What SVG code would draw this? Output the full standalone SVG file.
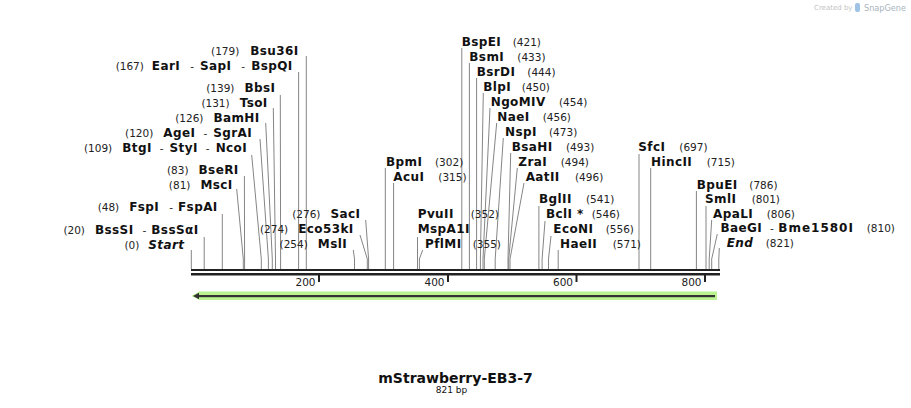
<svg xmlns="http://www.w3.org/2000/svg" width="911" height="408" viewBox="0 0 911 408">
<style>
text{font-family:"DejaVu Sans","Liberation Sans",sans-serif;fill:#111}
.n{font-weight:bold;font-size:12px;letter-spacing:0.4px}
.i{font-weight:bold;font-style:italic;font-size:12px;letter-spacing:0.4px}
.p{font-size:10.5px;font-weight:normal;fill:#222;letter-spacing:0}
.ln{stroke:#858585;stroke-width:1;fill:none}
.rl{font-size:10.5px;fill:#222}
</style>
<rect width="911" height="408" fill="#fff"/>
<g id="credit">
<text x="814" y="10" style="font-size:7px;fill:#c4c4c4">Created by</text>
<rect x="855" y="3" width="5" height="9" rx="2" fill="#9fc3e6"/>
<text x="864" y="10.5" textLength="42" lengthAdjust="spacingAndGlyphs" style="font-size:8.5px;fill:#a9b4be">SnapGene</text>
</g>
<g id="connectors">
<polyline class="ln" points="306.3,56 306.3,269"/>
<polyline class="ln" points="298.6,72 298.6,269"/>
<polyline class="ln" points="280.3,95 280.6,259 280.6,269"/>
<polyline class="ln" points="273.3,108 275.5,259 275.5,269"/>
<polyline class="ln" points="265.7,123 272.3,259 272.3,269"/>
<polyline class="ln" points="260,139 268.4,259 268.4,269"/>
<polyline class="ln" points="251.7,155 261.3,259 261.3,269"/>
<polyline class="ln" points="244.4,176 244.6,269"/>
<polyline class="ln" points="236.7,189 243.3,259 243.3,269"/>
<polyline class="ln" points="222.3,214 222.3,269"/>
<polyline class="ln" points="204.2,237 204.2,269"/>
<polyline class="ln" points="191.3,250 191.3,269"/>
<polyline class="ln" points="365.7,220 368.6,259 368.6,269"/>
<polyline class="ln" points="360,235 367.3,259 367.3,269"/>
<polyline class="ln" points="353.3,250 354.5,259 354.5,269"/>
<polyline class="ln" points="385.3,168 385.3,269"/>
<polyline class="ln" points="393.6,183 393.6,269"/>
<polyline class="ln" points="417.5,237 417.5,269"/>
<polyline class="ln" points="422.7,250 419.4,259 419.4,269"/>
<polyline class="ln" points="461.8,48 461.8,269"/>
<polyline class="ln" points="469.4,63 469.4,269"/>
<polyline class="ln" points="476.6,78 476.6,269"/>
<polyline class="ln" points="483.3,93 480.4,259 480.4,269"/>
<polyline class="ln" points="490,108 483,259 483,269"/>
<polyline class="ln" points="496.7,123 484.3,259 484.3,269"/>
<polyline class="ln" points="503.3,138 495.2,259 495.2,269"/>
<polyline class="ln" points="510.7,153 508,259 508,269"/>
<polyline class="ln" points="517.3,168 508.7,259 508.7,269"/>
<polyline class="ln" points="524,183 510,259 510,269"/>
<polyline class="ln" points="538.9,206 538.9,269"/>
<polyline class="ln" points="545,221 542.1,259 542.1,269"/>
<polyline class="ln" points="551,236 548.5,259 548.5,269"/>
<polyline class="ln" points="558.2,250 558.2,269"/>
<polyline class="ln" points="639,154 639,269"/>
<polyline class="ln" points="650.7,168 650.7,269"/>
<polyline class="ln" points="696.4,191 696.4,269"/>
<polyline class="ln" points="706,206 706,269"/>
<polyline class="ln" points="711.7,220 709.2,259 709.2,269"/>
<polyline class="ln" points="717.3,234 711.7,259 711.7,269"/>
<polyline class="ln" points="719.3,248 718.8,259 718.8,269"/>
</g>
<g id="backbone">
<line x1="191" y1="270" x2="720" y2="270" stroke="#222" stroke-width="2.2"/>
<line x1="191" y1="274.2" x2="720" y2="274.2" stroke="#222" stroke-width="2.4"/>
<rect x="318" y="275" width="2" height="7" fill="#222"/>
<rect x="447" y="275" width="2" height="7" fill="#222"/>
<rect x="575.5" y="275" width="2" height="7" fill="#222"/>
<rect x="704" y="275" width="2" height="7" fill="#222"/>
<text class="rl" x="315.5" y="285.5" text-anchor="end">200</text>
<text class="rl" x="444.5" y="285.5" text-anchor="end">400</text>
<text class="rl" x="573" y="285.5" text-anchor="end">600</text>
<text class="rl" x="701.5" y="285.5" text-anchor="end">800</text>
</g>
<g id="feature">
<polygon points="191.5,296 199.5,291.5 717,291.5 717,300 199.5,300" fill="#b9f28e"/>
<polygon points="193,296 199,292.8 199,299.2" fill="#333"/>
<rect x="198" y="295" width="517" height="2.2" fill="#333"/>
</g>
<g id="site-Bsu36I"><text x="298.7" y="55" text-anchor="end"><tspan class="p">(179)</tspan><tspan class="n" dx="11">Bsu36I</tspan></text></g>
<g id="site-EarI"><text x="292.7" y="70" text-anchor="end"><tspan class="p">(167)</tspan><tspan class="n" dx="8">EarI</tspan><tspan class="p" dx="10">-</tspan><tspan class="n" dx="6">SapI</tspan><tspan class="p" dx="10">-</tspan><tspan class="n" dx="6">BspQI</tspan></text></g>
<g id="site-BbsI"><text x="275.4" y="92" text-anchor="end"><tspan class="p">(139)</tspan><tspan class="n" dx="10">BbsI</tspan></text></g>
<g id="site-TsoI"><text x="267.7" y="107" text-anchor="end"><tspan class="p">(131)</tspan><tspan class="n" dx="10">TsoI</tspan></text></g>
<g id="site-BamHI"><text x="259.7" y="122" text-anchor="end"><tspan class="p">(126)</tspan><tspan class="n" dx="10">BamHI</tspan></text></g>
<g id="site-AgeI"><text x="252.1" y="137" text-anchor="end"><tspan class="p">(120)</tspan><tspan class="n" dx="10">AgeI</tspan><tspan class="p" dx="8">-</tspan><tspan class="n" dx="6">SgrAI</tspan></text></g>
<g id="site-BtgI"><text x="247.1" y="152" text-anchor="end"><tspan class="p">(109)</tspan><tspan class="n" dx="10">BtgI</tspan><tspan class="p" dx="8">-</tspan><tspan class="n" dx="6">StyI</tspan><tspan class="p" dx="8">-</tspan><tspan class="n" dx="6">NcoI</tspan></text></g>
<g id="site-BseRI"><text x="238.7" y="174" text-anchor="end"><tspan class="p">(83)</tspan><tspan class="n" dx="10">BseRI</tspan></text></g>
<g id="site-MscI"><text x="232.7" y="189" text-anchor="end"><tspan class="p">(81)</tspan><tspan class="n" dx="10">MscI</tspan></text></g>
<g id="site-FspI"><text x="217.7" y="211" text-anchor="end"><tspan class="p">(48)</tspan><tspan class="n" dx="10">FspI</tspan><tspan class="p" dx="10">-</tspan><tspan class="n" dx="5">FspAI</tspan></text></g>
<g id="site-BssSI"><text x="198.5" y="234" text-anchor="end"><tspan class="p">(20)</tspan><tspan class="n" dx="10">BssSI</tspan><tspan class="p" dx="9">-</tspan><tspan class="n" dx="5">BssSαI</tspan></text></g>
<g id="site-Start"><text x="184.4" y="249" text-anchor="end"><tspan class="p">(0)</tspan><tspan class="i" dx="9">Start</tspan></text></g>
<g id="site-SacI"><text x="360.4" y="218" text-anchor="end"><tspan class="p">(276)</tspan><tspan class="n" dx="10">SacI</tspan></text></g>
<g id="site-Eco53kI"><text x="353.7" y="233" text-anchor="end"><tspan class="p">(274)</tspan><tspan class="n" dx="10">Eco53kI</tspan></text></g>
<g id="site-MslI"><text x="347.1" y="248" text-anchor="end"><tspan class="p">(254)</tspan><tspan class="n" dx="10">MslI</tspan></text></g>
<g id="site-BpmI"><text class="n" x="386" y="166">BpmI</text><text class="p" x="435" y="166">(302)</text></g>
<g id="site-AcuI"><text class="n" x="393.3" y="181">AcuI</text><text class="p" x="438.3" y="181">(315)</text></g>
<g id="site-PvuII"><text class="n" x="417.7" y="218">PvuII</text><text class="p" x="470.7" y="218">(352)</text><text class="n" x="417.7" y="233">MspA1I</text></g>
<g id="site-PflMI"><text class="n" x="425" y="248">PflMI</text><text class="p" x="472.7" y="248">(355)</text></g>
<g id="site-BspEI"><text class="n" x="461.7" y="46">BspEI</text><text class="p" x="512.7" y="46">(421)</text></g>
<g id="site-BsmI"><text class="n" x="469.3" y="61">BsmI</text><text class="p" x="517.3" y="61">(433)</text></g>
<g id="site-BsrDI"><text class="n" x="476.7" y="76">BsrDI</text><text class="p" x="527.3" y="76">(444)</text></g>
<g id="site-BlpI"><text class="n" x="483.3" y="91">BlpI</text><text class="p" x="521.7" y="91">(450)</text></g>
<g id="site-NgoMIV"><text class="n" x="490.7" y="106">NgoMIV</text><text class="p" x="559" y="106">(454)</text></g>
<g id="site-NaeI"><text class="n" x="497.3" y="121">NaeI</text><text class="p" x="542.7" y="121">(456)</text></g>
<g id="site-NspI"><text class="n" x="505" y="136">NspI</text><text class="p" x="549" y="136">(473)</text></g>
<g id="site-BsaHI"><text class="n" x="511.7" y="151">BsaHI</text><text class="p" x="566" y="151">(493)</text></g>
<g id="site-ZraI"><text class="n" x="518.3" y="166">ZraI</text><text class="p" x="560.7" y="166">(494)</text></g>
<g id="site-AatII"><text class="n" x="525.7" y="181">AatII</text><text class="p" x="575" y="181">(496)</text></g>
<g id="site-BglII"><text class="n" x="539" y="203">BglII</text><text class="p" x="586" y="203">(541)</text></g>
<g id="site-BclI"><text class="n" x="546" y="218">BclI *</text><text class="p" x="591.7" y="218">(546)</text></g>
<g id="site-EcoNI"><text class="n" x="553.3" y="233">EcoNI</text><text class="p" x="605.7" y="233">(556)</text></g>
<g id="site-HaeII"><text class="n" x="560" y="248">HaeII</text><text class="p" x="612.7" y="248">(571)</text></g>
<g id="site-SfcI"><text class="n" x="638.3" y="151">SfcI</text><text class="p" x="679.3" y="151">(697)</text></g>
<g id="site-HincII"><text class="n" x="651" y="166">HincII</text><text class="p" x="706.7" y="166">(715)</text></g>
<g id="site-BpuEI"><text class="n" x="696.7" y="189">BpuEI</text><text class="p" x="749.3" y="189">(786)</text></g>
<g id="site-SmlI"><text class="n" x="705" y="203">SmlI</text><text class="p" x="751.7" y="203">(801)</text></g>
<g id="site-ApaLI"><text class="n" x="713" y="218">ApaLI</text><text class="p" x="766.7" y="218">(806)</text></g>
<g id="site-BaeGI"><text class="n" x="720.5" y="232">BaeGI</text><text class="p" x="770" y="232">-</text><text class="n" x="778.3" y="232" textLength="75" lengthAdjust="spacing">Bme1580I</text><text class="p" x="866.7" y="232">(810)</text></g>
<g id="site-End"><text class="i" x="726.7" y="247">End</text><text class="p" x="765.7" y="247">(821)</text></g>
<g id="title">
<text x="455.5" y="382.5" text-anchor="middle" style="font-weight:bold;font-size:14px">mStrawberry-EB3-7</text>
<text x="451.5" y="393" text-anchor="middle" style="font-size:9px">821 bp</text>
</g>
</svg>
